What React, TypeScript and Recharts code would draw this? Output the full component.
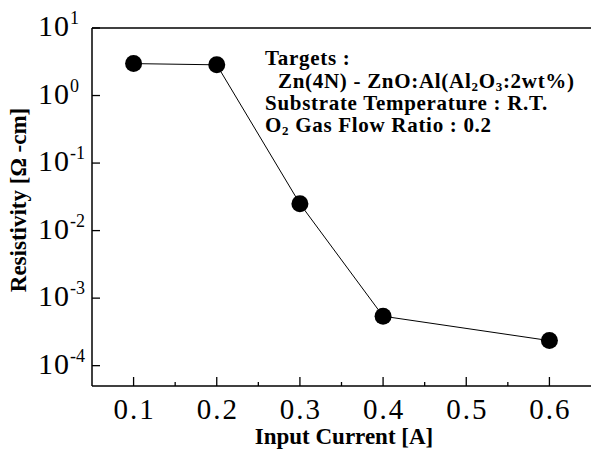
import React from "react";
import { LineChart, Line, XAxis, YAxis, ReferenceLine } from "recharts";

const inputCurrent = [0.1, 0.2, 0.3, 0.4, 0.6];
const resistivity = [2.97, 2.85, 0.025, 5.4e-4, 2.35e-4];
const xTicks = [0.1, 0.15, 0.2, 0.25, 0.3, 0.35, 0.4, 0.45, 0.5, 0.55, 0.6];
const yTicks = [1e-4, 1e-3, 1e-2, 1e-1, 1, 10];

const data = inputCurrent.map((x, i) => ({ x, y: resistivity[i] }));

const SERIF = "'Liberation Serif', 'Times New Roman', serif";

function XTick(props: any) {
  const { x, y, payload } = props;
  const v = payload.value as number;
  const major = Math.abs(v * 10 - Math.round(v * 10)) < 1e-6;
  return (
    <g>
      <line x1={x} x2={x} y1={y} y2={y - (major ? 9 : 4)} stroke="#000" strokeWidth={1.3} />
      {major && (
        <text
          x={x + 1}
          y={y + 33}
          textAnchor="middle"
          fontFamily={SERIF}
          fontSize={29}
          letterSpacing={2}
          fill="#000"
        >
          {v.toFixed(1)}
        </text>
      )}
    </g>
  );
}

function YTick(props: any) {
  const { x, y, payload } = props;
  const v = payload.value as number;
  const exp = Math.round(Math.log10(v));
  return (
    <g>
      <line x1={x} x2={x + 8} y1={y} y2={y} stroke="#000" strokeWidth={1.3} />
      <text x={38} y={y + 8} fontFamily={SERIF} fontSize={30} letterSpacing={1} fill="#000">
        10
        <tspan dy={-12} fontSize={18} letterSpacing={0}>{String(exp)}</tspan>
      </text>
    </g>
  );
}

function YTitle() {
  return (
    <text
      x={26}
      y={200}
      transform="rotate(-90 26 200)"
      textAnchor="middle"
      fontFamily={SERIF}
      fontWeight="bold"
      fontSize={23}
      fill="#000"
    >
      Resistivity [Ω -cm]
    </text>
  );
}

function XTitle() {
  return (
    <text
      x={344}
      y={444}
      textAnchor="middle"
      fontFamily={SERIF}
      fontWeight="bold"
      fontSize={23}
      fill="#000"
    >
      Input Current [A]
    </text>
  );
}

export default function App() {
  return (
    <div style={{ position: "absolute", left: 0, top: 0, width: 591, height: 452, background: "#fff" }}>
      <LineChart width={591} height={452} data={data} margin={{ top: 28, right: 0, bottom: 0, left: 0 }}>
        <XAxis
          dataKey="x"
          type="number"
          domain={[0.05, 0.65]}
          ticks={xTicks}
          interval={0}
          height={66}
          tickSize={0}
          tickMargin={0}
          tickLine={false}
          axisLine={{ stroke: "#000", strokeWidth: 1.5 }}
          tick={<XTick />}
          allowDataOverflow
          label={<XTitle />}
        />
        <YAxis
          type="number"
          scale="log"
          domain={[5e-5, 10]}
          ticks={yTicks}
          interval={0}
          width={92}
          tickSize={0}
          tickMargin={0}
          tickLine={false}
          axisLine={{ stroke: "#000", strokeWidth: 1.5 }}
          tick={<YTick />}
          allowDataOverflow
          label={<YTitle />}
        />
        <ReferenceLine y={10} stroke="#000" strokeWidth={1.5} />
        <Line
          dataKey="y"
          type="linear"
          stroke="#000"
          strokeWidth={1}
          dot={{ r: 8.5, fill: "#000", stroke: "#000", strokeWidth: 0 }}
          isAnimationActive={false}
        />
      </LineChart>
      <svg
        width={330}
        height={110}
        style={{ position: "absolute", left: 261, top: 40, overflow: "visible" }}
      >
        <g fontFamily={SERIF} fontWeight="bold" fontSize={21} letterSpacing={0.7} fill="#000">
          <text x={4} y={25}>Targets :</text>
          <text x={17} y={48}>
            Zn(4N) - ZnO:Al(Al<tspan dy={3} fontSize={13}>2</tspan>
            <tspan dy={-3}>O</tspan>
            <tspan dy={3} fontSize={13}>3</tspan>
            <tspan dy={-3}>:2wt%)</tspan>
          </text>
          <text x={4} y={70}>Substrate Temperature : R.T.</text>
          <text x={4} y={92}>
            O<tspan dy={3} fontSize={13}>2</tspan>
            <tspan dy={-3}> Gas Flow Ratio : 0.2</tspan>
          </text>
        </g>
      </svg>
    </div>
  );
}
